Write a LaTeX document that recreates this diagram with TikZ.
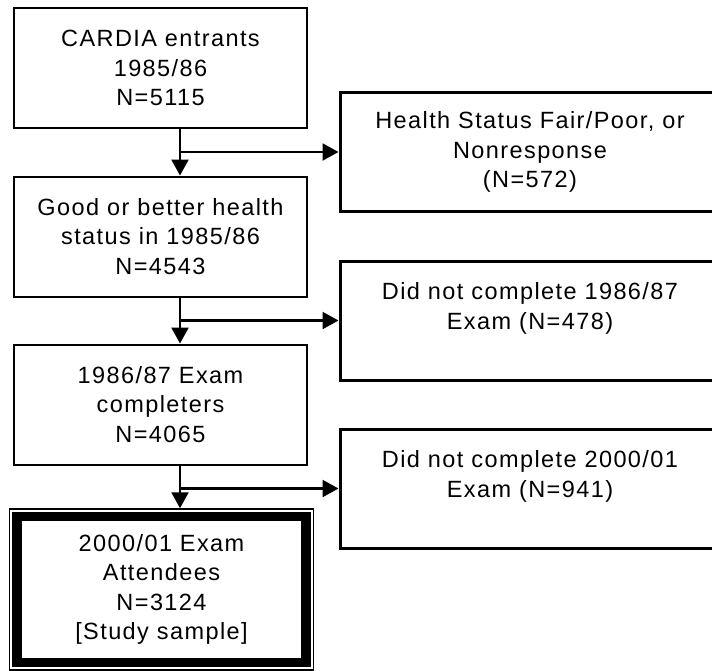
\documentclass[tikz,border=0pt]{standalone}
\usepackage{fontspec}
\setmainfont{Liberation Sans}[LetterSpace=6]
\usetikzlibrary{arrows.meta}

\begin{document}
\begin{tikzpicture}[x=1pt, y=-1pt,
		font=\fontsize{23.5}{29.5}\selectfont,
		stepbox/.style={draw, line width=2pt, align=center, minimum width=293pt, minimum height=120pt, inner sep=0pt},
		outbox/.style={draw, line width=3pt, align=center, minimum width=380pt, minimum height=119pt, inner sep=0pt},
		flow/.style={line width=2.2pt, -{Triangle[width=17pt, length=16pt]}}]
		\useasboundingbox (0,0) rectangle (712,670);
		
		% Main column
		\node[stepbox] (entrants) at (160.5, 68) {CARDIA entrants\\1985/86\\N=5115};
		\node[stepbox] (health) at (160.5, 236.5) {Good or better health\\status in 1985/86\\N=4543};
		\node[stepbox] (exam87) at (160.5, 404.5) {1986/87 Exam\\completers\\N=4065};
		
		% Study sample
		\node[draw, line width=1.5pt, minimum width=304pt, minimum height=161pt, inner sep=0pt] (frame) at (161.5, 589.5) {};
		\node[draw, line width=9.5pt, align=center, minimum width=289pt, minimum height=146pt, inner sep=0pt] (sample) at (161.5, 589.5) {2000/01 Exam\\Attendees\\N=3124\\{[}Study sample{]}};
		
		% Exclusions
		\node[outbox] (poor) at (530, 152) {Health Status Fair/Poor, or\\Nonresponse\\(N=572)};
		\node[outbox] (miss87) at (530, 320.5) {Did not complete 1986/87\\Exam (N=478)\\\mbox{}};
		\node[outbox] (miss01) at (530, 488.5) {Did not complete 2000/01\\Exam (N=941)\\\mbox{}};
		
		% Arrows
		\coordinate (j1) at (180, 0 |- poor.west);
		\coordinate (j2) at (180, 0 |- miss87.west);
		\coordinate (j3) at (180, 0 |- miss01.west);
		\draw[flow] (j1 |- entrants.south) -- (j1 |- health.north);
		\draw[flow] (j1) -- (poor.west);
		\draw[flow] (j2 |- health.south) -- (j2 |- exam87.north);
		\draw[flow] (j2) -- (miss87.west);
		\draw[flow] (j3 |- exam87.south) -- (j3 |- frame.north);
		\draw[flow] (j3) -- (miss01.west);
\end{tikzpicture}
\end{document}
